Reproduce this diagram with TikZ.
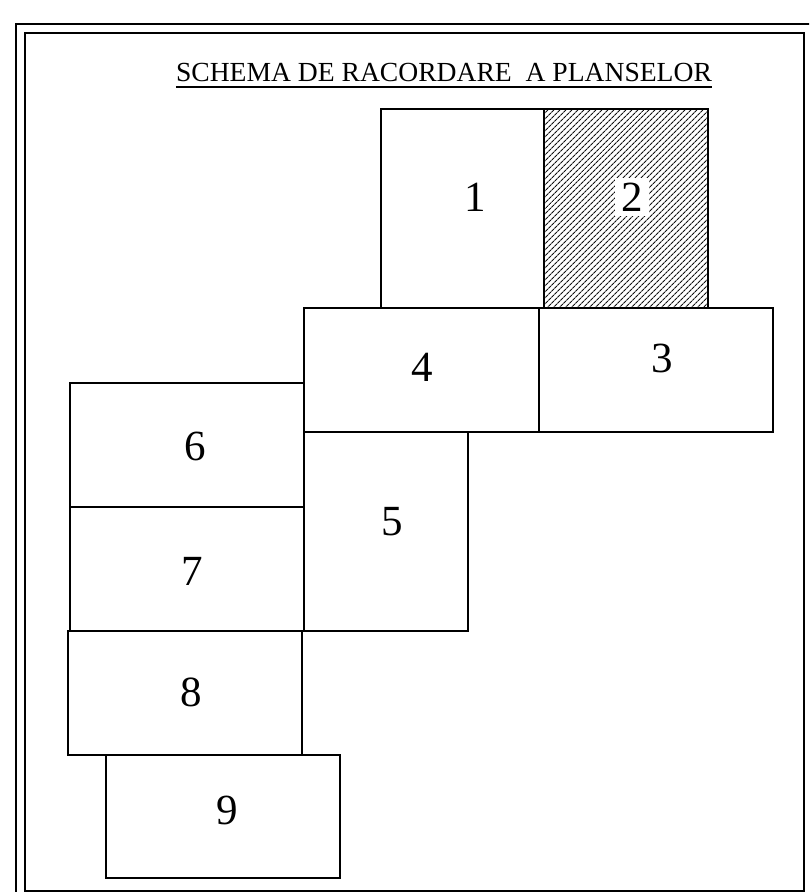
\documentclass[tikz,border=0pt]{standalone}
\usepackage{fontspec}
\setmainfont{Liberation Serif}
\usepackage{tikz}
\usetikzlibrary{patterns.meta}
\definecolor{Ink}{HTML}{000000}
\definecolor{Hatch}{HTML}{111111}

\tikzset{
  sheet/.style={draw=Ink,line width=1.6pt},
  num/.style={font=\fontsize{43}{43}\selectfont,inner sep=1pt},
  frame/.style={draw=Ink,line width=2pt}
}

\begin{document}
\begin{tikzpicture}[x=1pt,y=-1pt]
  \useasboundingbox (0,0) rectangle (809,892);
  \clip (0,0) rectangle (809,892);
  % chenar dublu
  \draw[frame] (16,24) rectangle (830,910);
  \draw[frame] (25,33) rectangle (804,891);
  % titlu
  \node[font=\fontsize{27.6}{28}\selectfont,inner sep=0pt,anchor=base] (titlu) at (444,81) {SCHEMA DE RACORDARE\ \ A PLANSELOR};
  \draw[line width=1.8pt] ([yshift=-6pt]titlu.base west) -- ([yshift=-6pt]titlu.base east);
  % plansa 2 hasurata
  \draw[sheet,pattern={Lines[angle=45,distance=4pt,line width=1.1pt]},pattern color=Hatch] (544,109) rectangle (708,308);
  \node[num,fill=white,inner xsep=6pt,inner ysep=5pt] (p2) at (632,197) {2};
  % celelalte planse
  \foreach \xa/\ya/\xb/\yb/\n/\lx/\ly in {381/109/544/308/1/475/197,
      539/308/773/432/3/662/358, 304/308/539/432/4/422/367,
      304/432/468/631/5/392/522, 70/383/304/507/6/195/446,
      70/507/304/631/7/192/571, 68/631/302/755/8/191/692,
      106/755/340/878/9/227/810}{
    \draw[sheet] (\xa,\ya) rectangle (\xb,\yb);
    \node[num] (p\n) at (\lx,\ly) {\n};
  }
\end{tikzpicture}
\end{document}
